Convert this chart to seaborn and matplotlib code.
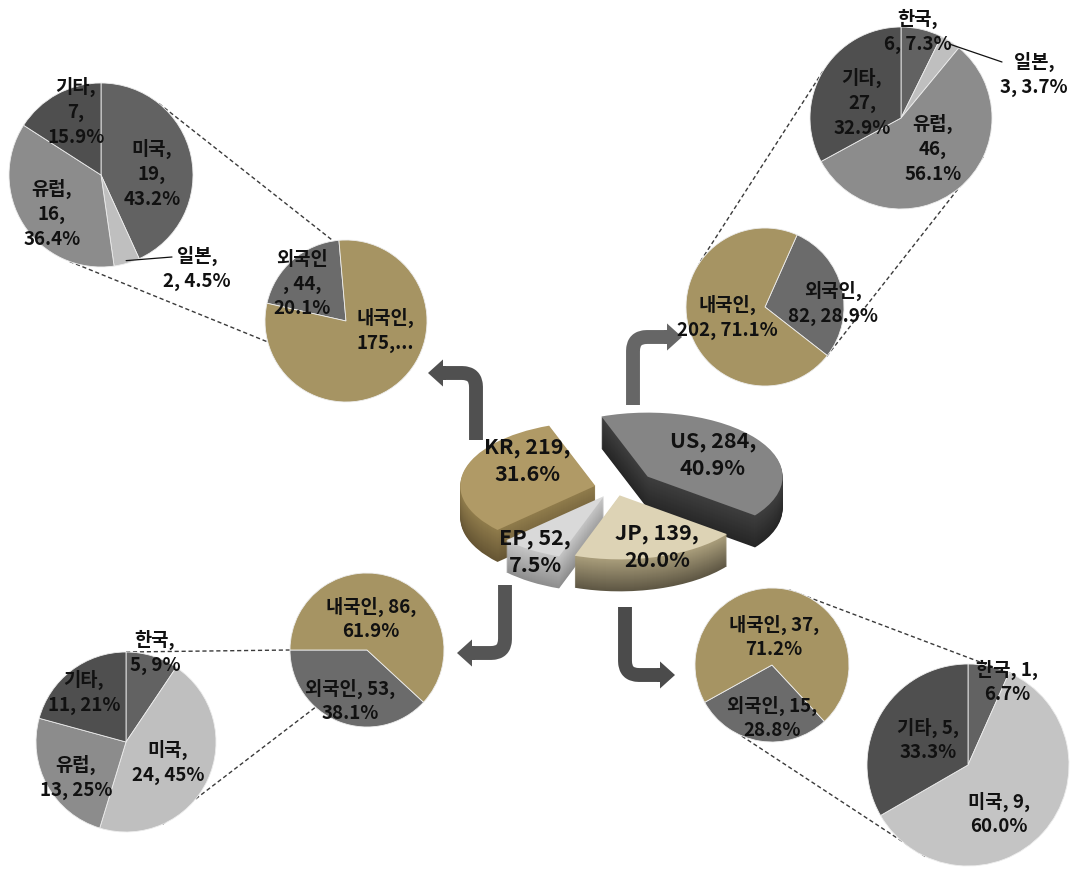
import matplotlib
matplotlib.use("Agg")
import matplotlib.pyplot as plt
import seaborn as sns
import numpy as np
from matplotlib.transforms import Affine2D
from matplotlib.patches import FancyArrowPatch

# ---------------- data ----------------
regions = ["US", "JP", "EP", "KR"]
region_counts = [284, 139, 52, 219]

origin_names = ["외국인", "내국인"]
kr_origin = [44, 175]
us_origin = [82, 202]
jp_origin = [53, 86]
ep_origin = [15, 37]

kr_foreign_names = ["미국", "일본", "유럽", "기타"]
kr_foreign = [19, 2, 16, 7]
us_foreign_names = ["한국", "일본", "유럽", "기타"]
us_foreign = [6, 3, 46, 27]
jp_foreign_names = ["한국", "미국", "유럽", "기타"]
jp_foreign = [5, 24, 13, 11]
ep_foreign_names = ["한국", "미국", "기타"]
ep_foreign = [1, 9, 5]

# ---------------- style ----------------
sns.set_theme(style="white")
plt.rcParams["font.family"] = ["Noto Sans CJK KR", "DejaVu Sans"]

W, H = 1070, 872
fig = plt.figure(figsize=(W / 100, H / 100), dpi=100)
ax = fig.add_axes([0, 0, 1, 1])

TAN = "#A69463"
FOREIGN = "#6B6B6B"
DARK, MID_DARK, MID, LIGHT = "#4F4F4F", "#626262", "#8C8C8C", "#BFBFBF"


def Y(y):
    return H - y


def fmt_pct(v, total, d):
    return f"{100 * v / total:.{d}f}%"


def put_text(x, y, s, size=13.5, ls=1.38):
    ax.text(x, Y(y), s, ha="center", va="center", fontsize=size,
            fontweight="bold", color="#111111", linespacing=ls, zorder=30)


def rim(center, r, ang):
    a = np.deg2rad(ang)
    return center[0] + r * np.cos(a), Y(center[1]) + r * np.sin(a)


def draw_pie(names, values, colors, center, r, start, ccw, templates,
             positions, decimals=1):
    wedges, _ = ax.pie(values, colors=colors, startangle=start,
                       counterclock=ccw, radius=r,
                       center=(center[0], Y(center[1])), frame=True,
                       wedgeprops=dict(linewidth=0.6, edgecolor="#EDEDED"))
    total = sum(values)
    for n, v, t, p in zip(names, values, templates, positions):
        put_text(p[0], p[1], t.format(n=n, v=v, p=fmt_pct(v, total, decimals)))
    return wedges


def connectors(c1, r1, c2, r2, pairs):
    for a1, a2 in pairs:
        x1, y1 = rim(c1, r1, a1)
        x2, y2 = rim(c2, r2, a2)
        ax.plot([x1, x2], [y1, y2], color="#3A3A3A", lw=1.0,
                dashes=(3, 2), zorder=0.5)


def leader(wedge, center, r, end):
    mid = 0.5 * (wedge.theta1 + wedge.theta2)
    x1, y1 = rim(center, r * 0.97, mid)
    ax.plot([x1, end[0]], [y1, Y(end[1])], color="#111111", lw=0.9, zorder=25)


# ---------------- 3D exploded pie in the middle ----------------
cx, cy, rx, ry, depth = 615, 488, 135, 64, 32
explode = [0.30, 0.12, 0.15, 0.15]
top_colors = ["#858585", "#DDD3B5", "#D9D9D9", "#B09A66"]
side_pairs = [("#3E3E3E", "#262626"), ("#A89C7A", "#5E5744"),
              ("#C4C4C4", "#8E8E8E"), ("#8F7B4B", "#665634")]
draw_rank = [2, 4, 3, 1]
shades = [sns.blend_palette(pair, depth) for pair in side_pairs]

for k in range(depth, -1, -1):
    cols = top_colors if k == 0 else [shades[i][k - 1] for i in range(4)]
    wedges, _ = ax.pie(region_counts, explode=explode, startangle=110,
                       counterclock=False, colors=cols, radius=1,
                       center=(0, 0), frame=True,
                       wedgeprops=dict(linewidth=0))
    tr = Affine2D().scale(rx, ry).translate(cx, Y(cy) - k) + ax.transData
    for i, w in enumerate(wedges):
        w.set_transform(tr)
        w.set_zorder(6 + draw_rank[i] + (depth - k) / (depth + 1) * 0.9)

region_total = sum(region_counts)
center_label_pos = {"US": (713, 455), "JP": (657, 547), "EP": (535, 552),
                    "KR": (527, 461)}
for n, v in zip(regions, region_counts):
    p = center_label_pos[n]
    put_text(p[0], p[1], f"{n}, {v},\n{fmt_pct(v, region_total, 1)}",
             size=15.5, ls=1.33)

# ---------------- arrows ----------------
arrow_specs = [((476, 440), (428, 373), "#505050"),
               ((633, 405), (682, 337), "#666666"),
               ((505, 585), (457, 653), "#555555"),
               ((625, 607), (675, 675), "#4B4B4B")]
for (x0, y0), (x1, y1), c in arrow_specs:
    sx = np.sign(x1 - x0)
    head = 15
    bx = x1 - sx * head
    shaft = FancyArrowPatch((x0, Y(y0)), (bx + sx * 1, Y(y1)), arrowstyle="-",
                            connectionstyle="angle,angleA=90,angleB=0,rad=14",
                            lw=10, color=c, capstyle="butt", joinstyle="round",
                            shrinkA=0, shrinkB=0, zorder=5)
    ax.add_patch(shaft)
    tip = FancyArrowPatch((bx - sx * 3, Y(y1)), (x1, Y(y1)),
                          arrowstyle="simple,head_length=1.08,head_width=1.95,tail_width=1.0",
                          mutation_scale=10, color=c, lw=0,
                          shrinkA=0, shrinkB=0, zorder=5)
    ax.add_patch(tip)

# ---------------- 내국인 / 외국인 pies ----------------
kr_c, kr_r = (346, 321), 81
draw_pie(origin_names, kr_origin, [FOREIGN, TAN], kr_c, kr_r, 95, True,
         ["{n}\n, {v},\n{p}", "{n},\n{v},..."], [(302, 284), (385, 330)])

us_c, us_r = (765, 307), 79
draw_pie(origin_names, us_origin, [FOREIGN, TAN], us_c, us_r, 66, False,
         ["{n},\n{v}, {p}", "{n},\n{v}, {p}"], [(833, 303), (727, 317)])

jp_c, jp_r = (367, 650), 77
draw_pie(origin_names, jp_origin, [FOREIGN, TAN], jp_c, jp_r, 180, True,
         ["{n}, {v},\n{p}", "{n}, {v},\n{p}"], [(350, 701), (371, 619)])

ep_c, ep_r = (772, 665), 77
draw_pie(origin_names, ep_origin, [FOREIGN, TAN], ep_c, ep_r, 209, True,
         ["{n}, {v},\n{p}", "{n}, {v},\n{p}"], [(772, 718), (774, 637)])

# ---------------- 외국인 breakdown pies ----------------
krd_c, krd_r = (101, 175), 92
w = draw_pie(kr_foreign_names, kr_foreign, [MID_DARK, LIGHT, MID, DARK],
             krd_c, krd_r, 90, False,
             ["{n},\n{v},\n{p}", "{n},\n{v}, {p}", "{n},\n{v},\n{p}", "{n},\n{v},\n{p}"],
             [(152, 174), (197, 268), (52, 214), (76, 112)])
leader(w[1], krd_c, krd_r, (172, 257))
connectors(krd_c, krd_r, kr_c, kr_r, [(51, 99), (-110, 195)])

usd_c, usd_r = (901, 118), 91
w = draw_pie(us_foreign_names, us_foreign, [MID_DARK, LIGHT, MID, DARK],
             usd_c, usd_r, 90, False,
             ["{n},\n{v}, {p}", "{n},\n{v}, {p}", "{n},\n{v},\n{p}", "{n},\n{v},\n{p}"],
             [(918, 31), (1034, 74), (933, 149), (862, 103)])
leader(w[1], usd_c, usd_r, (1002, 62))
connectors(usd_c, usd_r, us_c, us_r, [(149, 147), (-25, -40)])

jpd_c, jpd_r = (126, 742), 90
draw_pie(jp_foreign_names, jp_foreign, [MID_DARK, LIGHT, MID, DARK],
         jpd_c, jpd_r, 90, False,
         ["{n},\n{v}, {p}"] * 4,
         [(155, 652), (168, 762), (76, 777), (84, 692)], decimals=0)
connectors(jpd_c, jpd_r, jp_c, jp_r, [(90, 180), (-66, -132)])

epd_c, epd_r = (968, 765), 101
draw_pie(ep_foreign_names, ep_foreign, [MID_DARK, "#C4C4C4", DARK],
         epd_c, epd_r, 90, False,
         ["{n}, {v},\n{p}"] * 3,
         [(1007, 682), (999, 814), (928, 740)])
connectors(epd_c, epd_r, ep_c, ep_r, [(64, 77), (-115, -114)])

ax.set_xlim(0, W)
ax.set_ylim(0, H)
ax.set_axis_off()
fig.savefig("out.png", dpi=100, facecolor="white")
